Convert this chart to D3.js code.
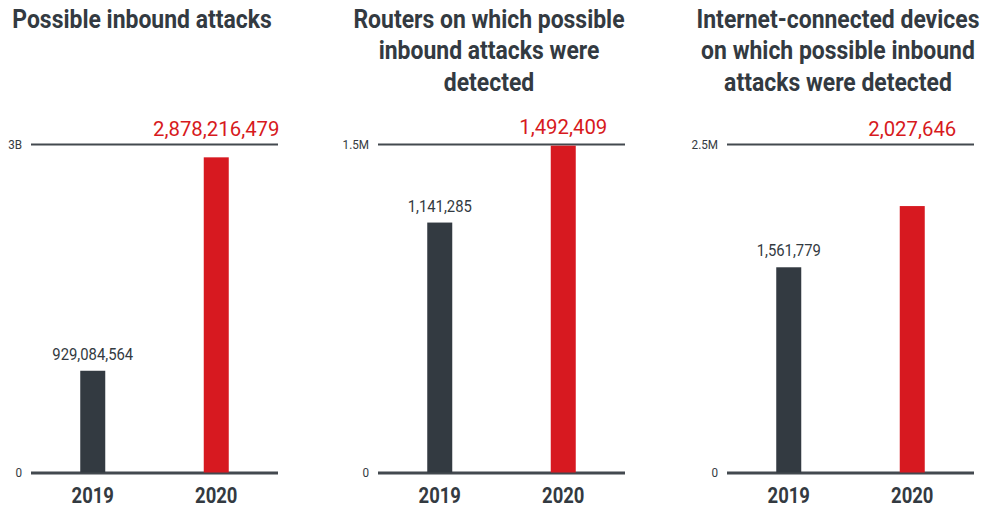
<!DOCTYPE html>
<html>
<head>
<meta charset="utf-8">
<script src="https://cdn.jsdelivr.net/npm/d3@7"></script>
<style>
  html, body { margin: 0; padding: 0; background: #ffffff; }
  svg { display: block; }
  text { font-family: Roboto, "Liberation Sans", sans-serif; }
</style>
</head>
<body>
<svg id="chart" width="986" height="508"></svg>
<script>
// Panel titles (one entry per chart, one string per line)
const titles = [
  ["Possible inbound attacks"],
  ["Routers on which possible", "inbound attacks were", "detected"],
  ["Internet-connected devices", "on which possible inbound", "attacks were detected"]
];
const years = ["2019", "2020"];
// Values per panel: [2019, 2020]
const attacks = [929084564, 2878216479];
const routers = [1141285, 1492409];
const devices = [1561779, 2027646];
const seriesValues = [attacks, routers, devices];
// Axis maximum per panel and its tick labels
const axisMax = [3000000000, 1500000, 2500000];
const tickLabels = [["0", "3B"], ["0", "1.5M"], ["0", "2.5M"]];

const DARK = "#333a41";
const RED = "#d71920";

// Horizontal squeeze giving Roboto a condensed look
const CONDENSE_TITLE = 0.9;
const CONDENSE_YEAR = 0.84;
const CONDENSE_NUM = 0.9;
const CONDENSE_RED = 0.97;

const svg = d3.select("#chart");
const panelX = [31, 378, 727];
const plotW = 247;
const yTop = 144, yBase = 472.5;
const barW = 25;

function place(sel, x, y, sx) {
  return sel.attr("transform", `translate(${x},${y}) scale(${sx},1)`);
}

seriesValues.forEach((vals, i) => {
  const g = svg.append("g").attr("transform", `translate(${panelX[i]},0)`);

  const x = d3.scaleBand().domain(years).range([0, plotW]).padding(0);
  const cx = d => x(d) + x.bandwidth() / 2;
  const y = d3.scaleLinear().domain([0, axisMax[i]]).range([yBase, yTop]);

  // Gridline axis: 0 and max, lines running across the panel
  const axis = d3.axisLeft(y)
    .tickValues([0, axisMax[i]])
    .tickFormat((d, k) => tickLabels[i][k])
    .tickSize(-plotW)
    .tickPadding(9);
  const ag = g.append("g").call(axis);
  ag.select(".domain").remove();
  ag.selectAll(".tick line")
    .attr("stroke", "#43494f")
    .attr("stroke-width", d => d === 0 ? 3 : 2);
  ag.selectAll(".tick text")
    .attr("x", null)
    .attr("transform", `translate(-9,0) scale(${CONDENSE_NUM},1)`)
    .attr("fill", DARK)
    .style("font-family", "Roboto, sans-serif")
    .style("font-size", "13px");

  // Bars
  g.selectAll("rect.bar").data(vals).enter().append("rect")
    .attr("class", "bar")
    .attr("x", (d, k) => cx(years[k]) - barW / 2)
    .attr("width", barW)
    .attr("y", d => y(d))
    .attr("height", d => y(0) - y(d))
    .attr("fill", (d, k) => k === 0 ? DARK : RED);

  // Value labels
  g.selectAll("text.val").data(vals).enter().append("text")
    .attr("class", "val")
    .each(function (d, k) {
      const ty = k === 0 ? y(d) - 11 : Math.min(y(d) - 12, yTop - 8);
      place(d3.select(this), cx(years[k]), ty, k === 0 ? CONDENSE_NUM : CONDENSE_RED);
    })
    .attr("text-anchor", "middle")
    .attr("fill", (d, k) => k === 0 ? DARK : RED)
    .style("font-size", (d, k) => k === 0 ? "16.5px" : "21px")
    .text(d => d3.format(",")(d));

  // Year labels
  g.selectAll("text.year").data(years).enter().append("text")
    .attr("class", "year")
    .each(function (d) { place(d3.select(this), cx(d), 503, CONDENSE_YEAR); })
    .attr("text-anchor", "middle")
    .attr("fill", DARK)
    .style("font-size", "22px")
    .style("font-weight", "bold")
    .text(d => d);

  // Title
  const t = place(g.append("text"), 111, 28, CONDENSE_TITLE)
    .attr("text-anchor", "middle")
    .attr("fill", DARK)
    .style("font-size", "25.5px")
    .style("font-weight", "bold");
  titles[i].forEach((line, k) => {
    t.append("tspan").attr("x", 0).attr("y", k * 31.5).text(line);
  });
});
</script>
</body>
</html>
